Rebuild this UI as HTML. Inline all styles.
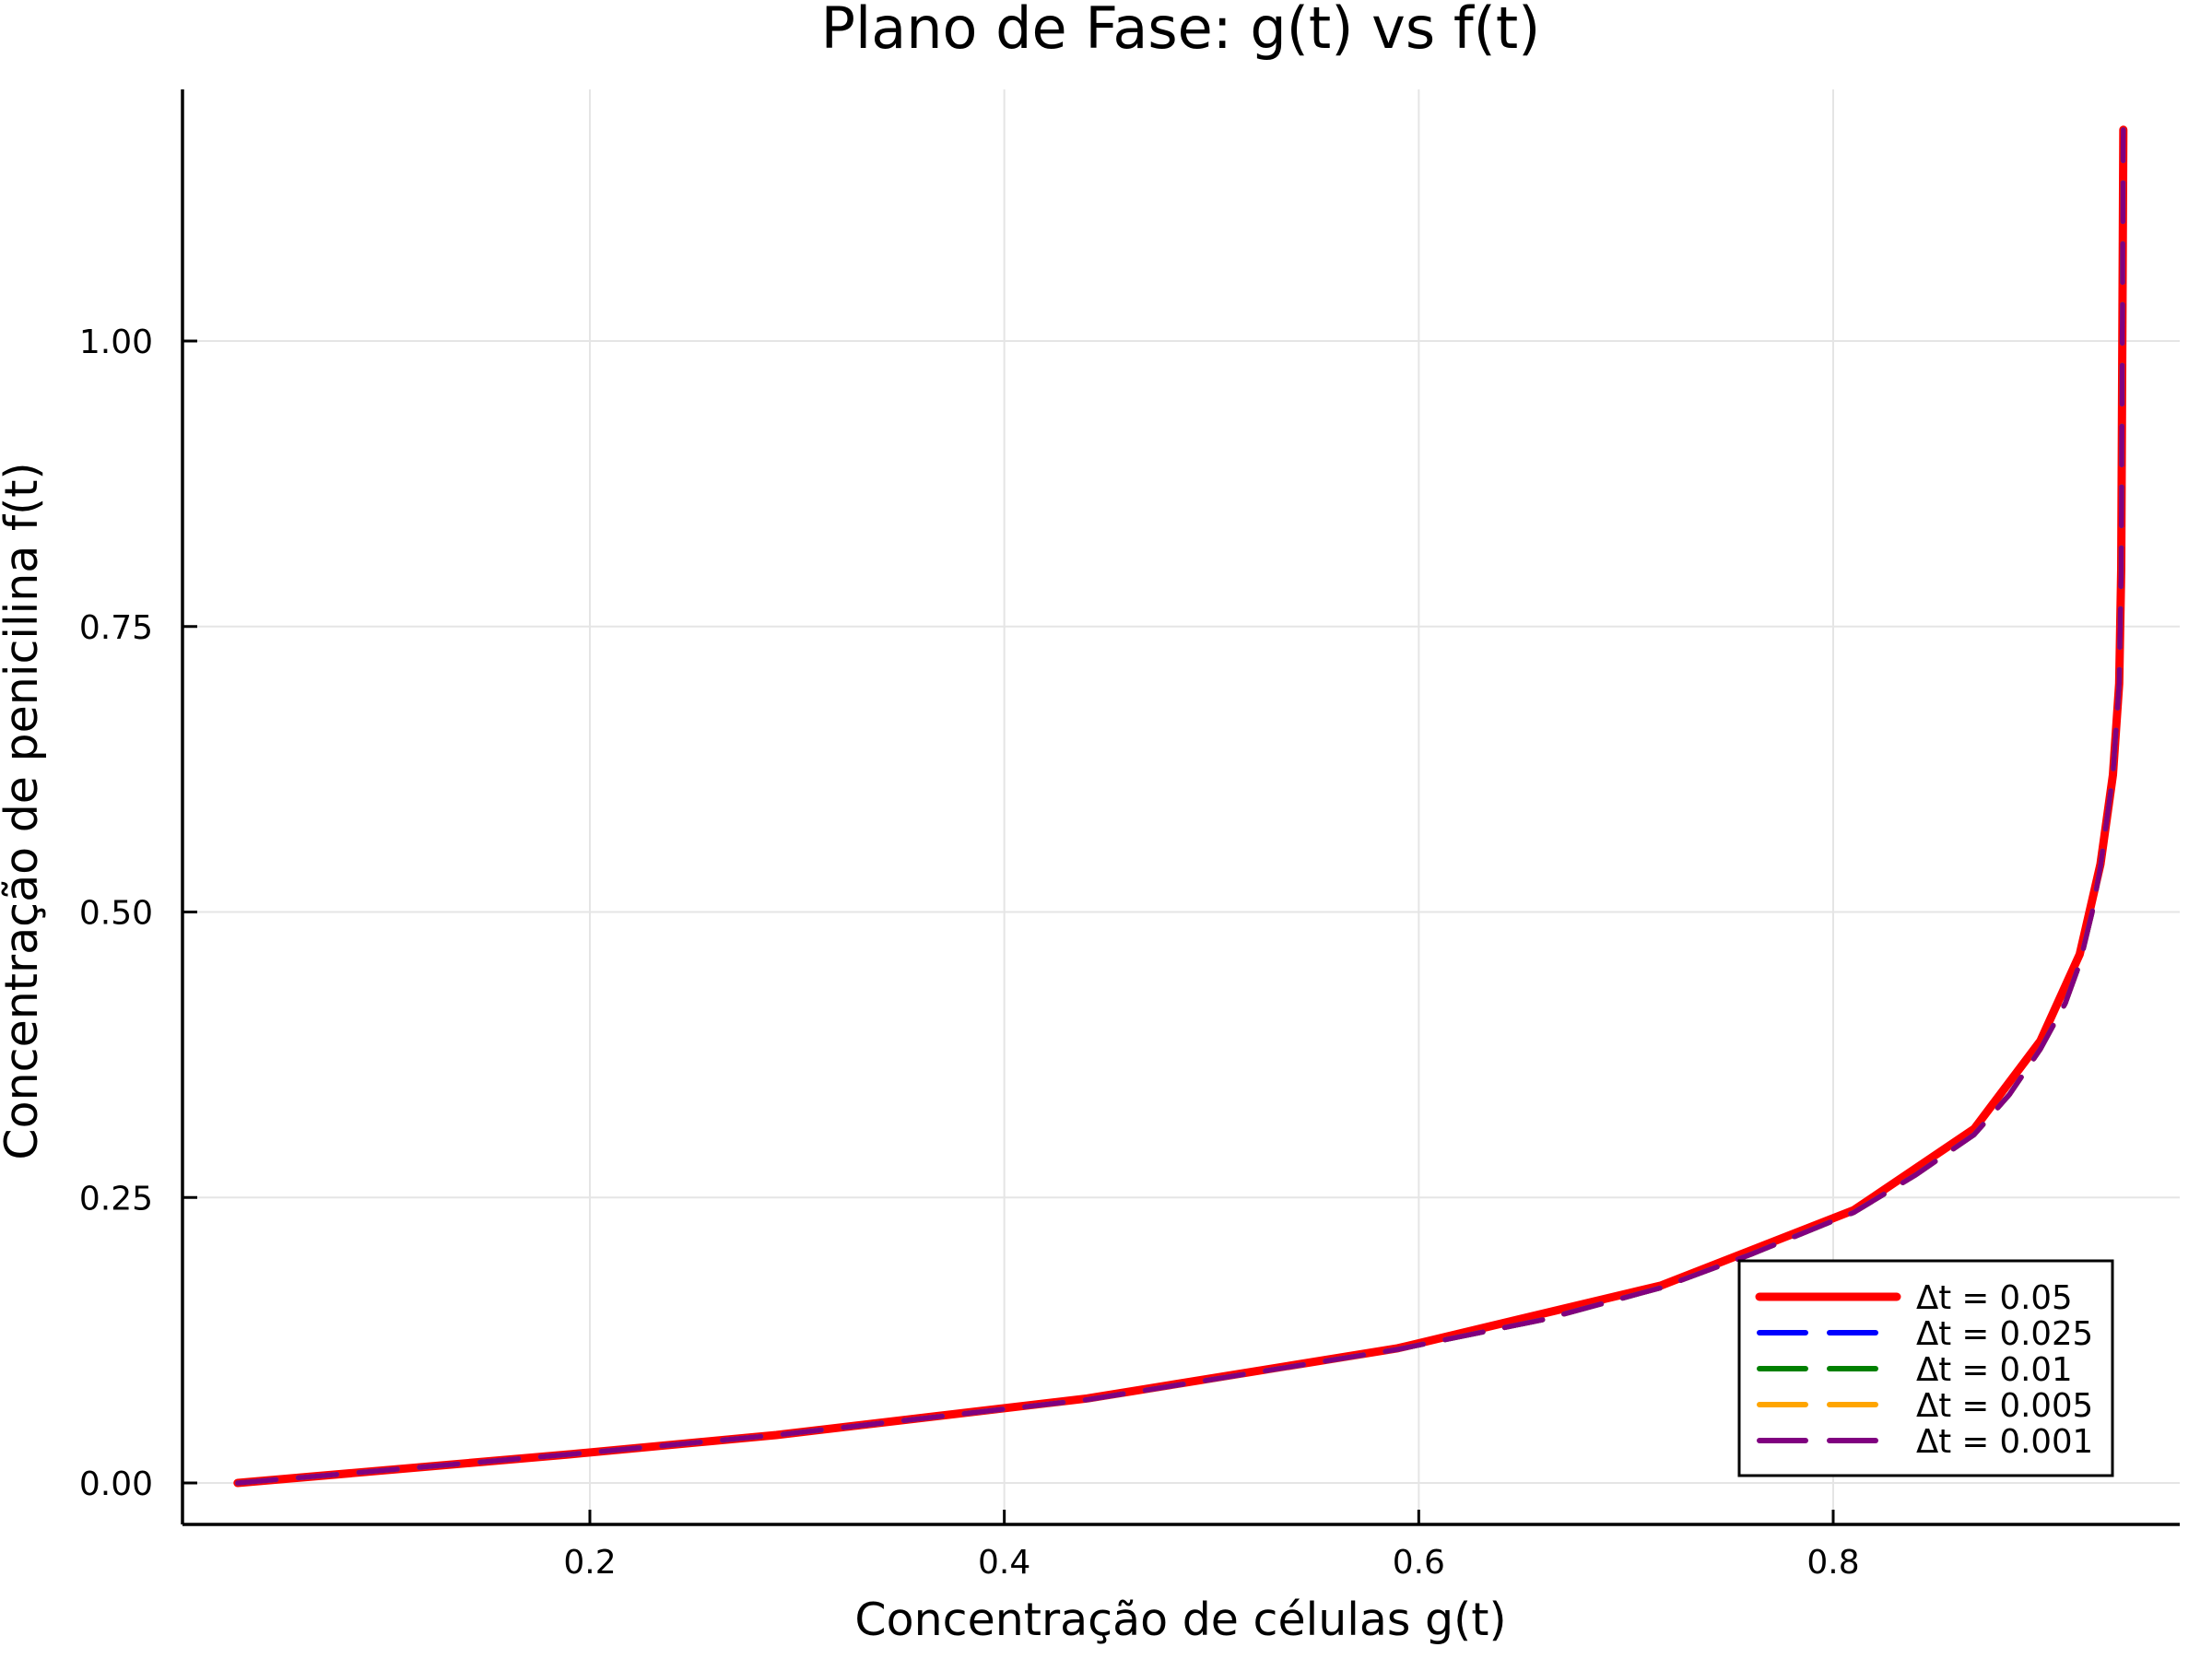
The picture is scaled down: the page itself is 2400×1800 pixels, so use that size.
<!DOCTYPE html>
<html><head><meta charset="utf-8"><style>
html,body{margin:0;padding:0;background:#fff;}
svg{display:block;font-family:"DejaVu Sans","Liberation Sans",sans-serif;}
</style></head><body>
<svg id="chart" width="2400" height="1800" viewBox="0 0 2400 1800" xmlns="http://www.w3.org/2000/svg">
<rect width="2400" height="1800" fill="#fff"/>
<g id="grid"></g>
<g id="series"></g>
<g id="axes"></g>
<text x="1281" y="52" text-anchor="middle" font-size="62">Plano de Fase: g(t) vs f(t)</text>
<text x="1281" y="1774" text-anchor="middle" font-size="49">Concentração de células g(t)</text>
<text transform="translate(40,880) rotate(-90)" text-anchor="middle" font-size="49">Concentração de penicilina f(t)</text>
<g id="legend"></g>
</svg>
<script>
const xTicks = [0.2, 0.4, 0.6, 0.8];
const xTickLabels = ["0.2", "0.4", "0.6", "0.8"];
const yTicks = [0, 0.25, 0.5, 0.75, 1.0];
const yTickLabels = ["0.00", "0.25", "0.50", "0.75", "1.00"];
const seriesNames = ["Δt = 0.05", "Δt = 0.025", "Δt = 0.01", "Δt = 0.005", "Δt = 0.001"];
const seriesColors = ["#ff0000", "#0000ff", "#008000", "#ffa500", "#800080"];
const gRed = [0.03, 0.19, 0.29, 0.44, 0.59, 0.717, 0.81, 0.868, 0.90, 0.919, 0.929, 0.935, 0.938, 0.939, 0.940];
const fRed = [0.0, 0.025, 0.042, 0.074, 0.118, 0.173, 0.239, 0.310, 0.387, 0.463, 0.542, 0.62, 0.70, 0.80, 1.185];
const gDash = [0.03, 0.19, 0.29, 0.44, 0.59, 0.66, 0.717, 0.76, 0.81, 0.84, 0.868, 0.885, 0.90, 0.912, 0.919, 0.925, 0.929, 0.935, 0.938, 0.939, 0.940];
const fDash = [0.0, 0.025, 0.042, 0.073, 0.117, 0.143, 0.171, 0.200, 0.237, 0.270, 0.305, 0.340, 0.380, 0.420, 0.455, 0.500, 0.540, 0.620, 0.700, 0.800, 1.185];

const X0 = 198, X1 = 2365, Y0 = 97, Y1 = 1654;
function xs(v){ return 640 + (v - 0.2) * 2248.33; }
function ys(v){ return 1609 - v * 1239; }
const NS = "http://www.w3.org/2000/svg";
function mk(tag, attrs, parent){
  const e = document.createElementNS(NS, tag);
  for (const k in attrs) e.setAttribute(k, attrs[k]);
  parent.appendChild(e); return e;
}
const grid = document.getElementById('grid');
const axes = document.getElementById('axes');
xTicks.forEach((t,i)=>{
  const l = mk('line',{x1:xs(t),x2:xs(t),y1:Y0,y2:Y1,stroke:'#e5e5e5','stroke-width':2},grid);
  
  
  const tk = mk('line',{x1:xs(t),x2:xs(t),y1:Y1,y2:Y1-16,stroke:'#000','stroke-width':3},axes);
  
  
  const tx = mk('text',{x:xs(t),y:1707,'text-anchor':'middle','font-size':36},axes);
  tx.textContent = xTickLabels[i];
  
  
});
yTicks.forEach((t,i)=>{
  const l = mk('line',{x1:X0,x2:X1,y1:ys(t),y2:ys(t),stroke:'#e5e5e5','stroke-width':2},grid);
  
  
  const tk = mk('line',{x1:X0,x2:X0+16,y1:ys(t),y2:ys(t),stroke:'#000','stroke-width':3},axes);
  
  
  const tx = mk('text',{x:166,y:ys(t)+13,'text-anchor':'end','font-size':36},axes);
  tx.textContent = yTickLabels[i];
  
  
});
const xa = mk('line',{x1:X0,x2:X1,y1:Y1,y2:Y1,stroke:'#000','stroke-width':3.5},axes);


const ya = mk('line',{x1:X0,x2:X0,y1:Y0,y2:Y1,stroke:'#000','stroke-width':3.5},axes);



const ser = document.getElementById('series');
function pts(gs, fs){ return gs.map((g,i)=>xs(g).toFixed(1)+','+ys(fs[i]).toFixed(1)).join(' '); }
const red = mk('polyline',{points:pts(gRed,fRed),fill:'none',stroke:seriesColors[0],'stroke-width':9,'stroke-linejoin':'round','stroke-linecap':'round'},ser);


for (let s=1; s<5; s++){
  const p = mk('polyline',{points:pts(gDash,fDash),fill:'none',stroke:seriesColors[s],'stroke-width':5.5,'stroke-dasharray':'42 24','stroke-linecap':'round','stroke-linejoin':'round'},ser);
  
  
}

const lg = document.getElementById('legend');
const box = mk('rect',{x:1887,y:1368,width:405,height:233,fill:'#fff',stroke:'#000','stroke-width':3},lg);


seriesNames.forEach((n,i)=>{
  const y = 1407 + i*39;
  const ln = mk('line',{x1:1909,x2:2058,y1:y,y2:y,stroke:seriesColors[i],'stroke-width':i==0?9:6,'stroke-linecap':'round','stroke-dasharray':i==0?'none':'50 26'},lg);
  
  
  const t = mk('text',{x:2079,y:y+13,'font-size':35.5},lg);
  t.textContent = n;
  
  
});
</script>
</body></html>
